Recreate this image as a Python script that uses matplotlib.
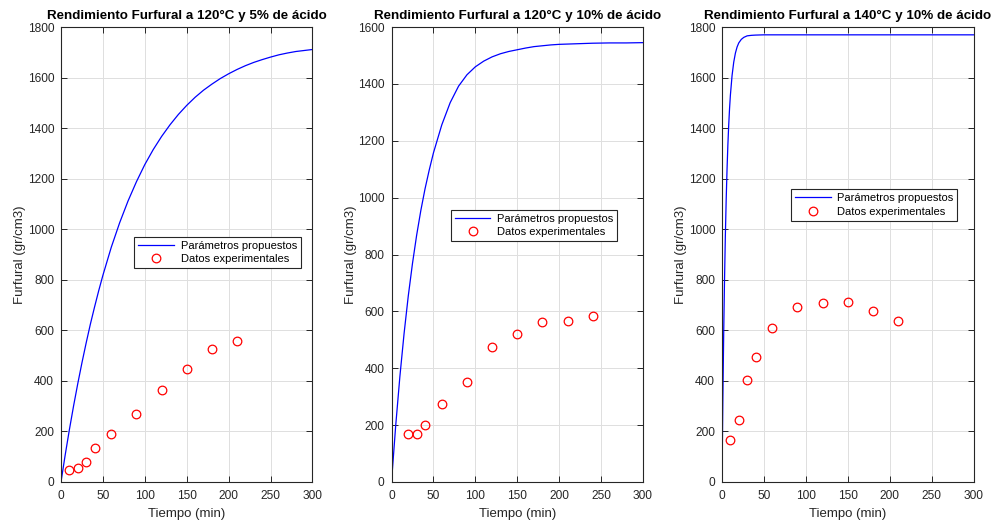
import numpy as np
import matplotlib
matplotlib.use("Agg")
import matplotlib.pyplot as plt

plt.rcParams['font.family'] = ['Liberation Sans', 'DejaVu Sans']

t_mod_1 = [0, 5, 10, 15, 20, 25, 30, 35, 40, 45, 50, 60, 70, 80, 90, 100, 110, 120, 130, 140,
           150, 160, 170, 180, 190, 200, 210, 220, 230, 240, 250, 260, 270, 280, 290, 300]
y_mod_1 = [0, 107, 207, 301, 389, 472, 550, 624, 692, 757, 818, 929, 1026, 1112, 1188, 1256,
           1315, 1367, 1413, 1454, 1490, 1522, 1550, 1574, 1596, 1615, 1632, 1647, 1660, 1671,
           1681, 1690, 1697, 1703, 1707, 1711]
t_exp_1 = [10, 20, 30, 40, 60, 90, 120, 150, 180, 210]
y_exp_1 = [47, 57, 80, 133, 190, 270, 363, 446, 527, 559]

t_mod_2 = [0, 5, 10, 15, 20, 25, 30, 35, 40, 45, 50, 60, 70, 80, 90, 100, 110, 120, 130, 140,
           150, 160, 170, 180, 190, 200, 220, 240, 260, 280, 300]
y_mod_2 = [0, 198, 371, 522, 654, 768, 868, 955, 1031, 1097, 1157, 1256, 1334, 1392, 1432,
           1460, 1480, 1495, 1506, 1514, 1520, 1526, 1531, 1534, 1537, 1539, 1541, 1543, 1544,
           1544, 1545]
t_exp_2 = [20, 30, 40, 60, 90, 120, 150, 180, 210, 240]
y_exp_2 = [170, 168, 200, 276, 353, 476, 522, 561, 565, 583]

t_mod_3 = [0, 1, 2, 3, 4, 5, 6, 7, 8, 9, 10, 12, 14, 16, 18, 20, 23, 26, 30, 35, 40, 50,
           100, 200, 300]
y_mod_3 = [0, 321, 583, 798, 974, 1118, 1236, 1333, 1412, 1477, 1530, 1608, 1661, 1697,
           1721, 1737, 1751, 1759, 1765, 1767, 1768, 1769, 1769, 1769, 1769]
t_exp_3 = [10, 20, 30, 40, 60, 90, 120, 150, 180, 210]
y_exp_3 = [165, 245, 403, 494, 608, 692, 709, 712, 675, 638]

titulos = ["Rendimiento Furfural a 120°C y 5% de ácido",
           "Rendimiento Furfural a 120°C y 10% de ácido",
           "Rendimiento Furfural a 140°C y 10% de ácido"]
y_max = [1800, 1600, 1800]
lefts = [61, 391.5, 722]
leg_pos = [(0.292, 0.539), (0.236, 0.598), (0.275, 0.643)]

series = [(t_mod_1, y_mod_1, t_exp_1, y_exp_1),
          (t_mod_2, y_mod_2, t_exp_2, y_exp_2),
          (t_mod_3, y_mod_3, t_exp_3, y_exp_3)]

W, H = 993, 521
fig = plt.figure(figsize=(W / 100, H / 100), dpi=100)
gris = '#262626'

for i in range(3):
    ax = fig.add_axes([lefts[i] / W, (H - 482) / H, 251.5 / W, 455 / H])
    tm, ym, te, ye = series[i]
    ax.plot(tm, ym, color='#0000ff', lw=0.9, label='Parámetros propuestos')
    ax.plot(te, ye, 'o', mfc='none', mec='#ff0000', mew=0.9, ms=6.2,
            label='Datos experimentales')
    ax.set_xlim(0, 300)
    ax.set_ylim(0, y_max[i])
    ax.set_xticks(np.arange(0, 301, 50))
    ax.set_yticks(np.arange(0, y_max[i] + 1, 200))
    ax.grid(True, color='#dfdfdf', lw=0.7)
    ax.set_axisbelow(True)
    ax.tick_params(direction='in', length=4, width=0.7, colors=gris, labelsize=8.6,
                   top=True, right=True)
    ax.tick_params(axis='x', pad=6)
    ax.tick_params(axis='y', pad=5)
    for s in ax.spines.values():
        s.set_color(gris)
        s.set_linewidth(0.8)
    ax.set_title(titulos[i], fontsize=9.6, fontweight='bold', pad=5.5)
    ax.set_xlabel('Tiempo (min)', fontsize=9.5, color=gris, labelpad=4)
    ax.set_ylabel('Furfural (gr/cm3)', fontsize=9.5, color=gris, labelpad=1)
    leg = ax.legend(loc='upper left', bbox_to_anchor=leg_pos[i], borderaxespad=0,
                    fontsize=8, fancybox=False, framealpha=1, edgecolor=gris,
                    handlelength=3.2, handletextpad=0.6, borderpad=0.35,
                    labelspacing=0.3)
    leg.get_frame().set_linewidth(0.8)

fig.savefig('out.png', dpi=100)
